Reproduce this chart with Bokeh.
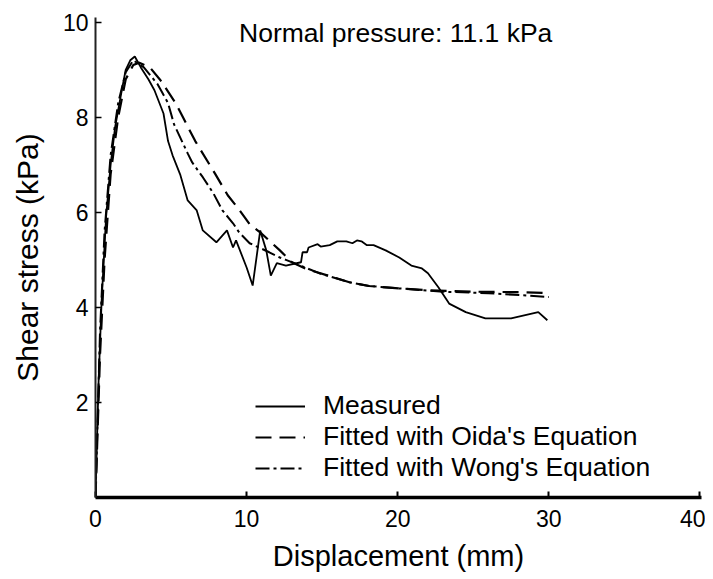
from bokeh.plotting import figure
from bokeh.models import Legend, LegendItem, Label, FixedTicker, Range1d
from bokeh.embed import file_html
from bokeh.resources import INLINE

# ---- data ----
measured_x = [0, 0.2, 0.4, 0.7, 1.0, 1.3, 1.7, 2.0, 2.3, 2.6, 3.0, 3.5, 3.9, 4.5, 4.8, 5.1,
              5.6, 6.1, 6.7, 7.1, 8.0, 8.7, 9.1, 9.3, 10.0, 10.4, 10.9, 11.3, 11.6, 12.0,
              12.6, 13.6, 13.7, 14.0, 14.1, 14.7, 14.9, 15.5, 16.0, 16.6, 17.0, 17.3, 17.6,
              17.96, 18.4, 19.2, 20.1, 20.9, 21.6, 22.0, 22.7, 23.4, 24.5, 25.8, 27.5,
              29.3, 29.9]
measured_y = [0, 2.4, 4.1, 5.9, 7.0, 7.8, 8.5, 9.0, 9.2, 9.28, 9.05, 8.8, 8.57, 8.08, 7.5, 7.2,
              6.8, 6.25, 6.04, 5.62, 5.37, 5.62, 5.26, 5.41, 4.84, 4.46, 5.62, 5.2, 4.67, 4.93,
              4.88, 4.95, 5.16, 5.16, 5.26, 5.33, 5.28, 5.31, 5.39, 5.39, 5.35, 5.41, 5.39,
              5.31, 5.31, 5.2, 5.05, 4.88, 4.82, 4.72, 4.42, 4.08, 3.9, 3.77, 3.77,
              3.9, 3.73]

oida_x = [0, 0.3, 0.6, 1.0, 1.5, 2.0, 2.5, 2.9, 3.6, 4.3, 5.3, 6.6, 7.9, 8.75, 9.4, 10.2,
          11.0, 12.2, 13.0, 14.0, 15.6, 16.8, 18.1, 20.1, 22.0, 25.0, 28.0, 30.0]
oida_y = [0, 3.0, 5.0, 6.8, 8.0, 8.8, 9.1, 9.15, 9.05, 8.78, 8.3, 7.5, 6.82, 6.36, 6.1, 5.75,
          5.55, 5.2, 4.95, 4.8, 4.65, 4.53, 4.45, 4.4, 4.36, 4.33, 4.32, 4.3]

wong_x = [0, 0.3, 0.6, 1.0, 1.5, 2.0, 2.5, 3.2, 4.1, 4.8, 5.2, 6.1, 6.4, 7.1, 7.8, 8.4, 9.1,
          9.5, 10.2, 11.5, 12.2, 12.6, 14.8, 16.8, 18.1, 20.1, 23.0, 26.0, 30.0]
wong_y = [0, 3.5, 5.6, 7.2, 8.3, 8.95, 9.2, 9.05, 8.7, 8.3, 7.85, 7.24, 7.05, 6.74, 6.4, 6.04,
          5.77, 5.58, 5.35, 5.16, 5.05, 5.0, 4.72, 4.53, 4.45, 4.4, 4.33, 4.3, 4.22]

x_ticks = [0, 10, 20, 30, 40]
y_ticks = [2, 4, 6, 8, 10]

series_labels = ["Measured", "Fitted with Oida's Equation", "Fitted with Wong's Equation"]

FONT = "Liberation Sans"

p = figure(frame_width=606, frame_height=480,
           x_range=Range1d(0, 40.1), y_range=Range1d(0, 10.1),
           output_backend="svg", toolbar_location=None,
           min_border_left=95, min_border_right=4, min_border_top=17, min_border_bottom=70)

p.outline_line_color = None
p.xgrid.grid_line_color = None
p.ygrid.grid_line_color = None
p.background_fill_color = "white"
p.border_fill_color = "white"

r1 = p.line(measured_x, measured_y, line_color="black", line_width=1.8)
r2 = p.line(oida_x, oida_y, line_color="black", line_width=2.2, line_dash="16 8")
r3 = p.line(wong_x, wong_y, line_color="black", line_width=2.0, line_dash="14 4 3 4")

# axes
xa = p.xaxis[0]
xa.ticker = FixedTicker(ticks=x_ticks)
xa.axis_line_width = 3.5
xa.axis_line_color = "black"
xa.major_tick_in = 6
xa.major_tick_out = 0
xa.major_tick_line_width = 2
xa.minor_tick_line_color = None
xa.major_label_text_font = FONT
xa.major_label_text_font_size = "23px"
xa.major_label_text_color = "black"
xa.major_label_standoff = 12
xa.axis_label = "Displacement (mm)"
xa.axis_label_text_font = FONT
xa.axis_label_text_font_size = "29px"
xa.axis_label_text_font_style = "normal"
xa.axis_label_text_color = "black"
xa.axis_label_standoff = 10

ya = p.yaxis[0]
ya.ticker = FixedTicker(ticks=y_ticks)
ya.axis_line_width = 2
ya.axis_line_color = "#222222"
ya.major_tick_in = 6
ya.major_tick_out = 0
ya.major_tick_line_width = 1.5
ya.minor_tick_line_color = None
ya.major_label_text_font = FONT
ya.major_label_text_font_size = "23px"
ya.major_label_text_color = "black"
ya.major_label_standoff = 7
ya.axis_label = "Shear stress (kPa)"
ya.axis_label_text_font = FONT
ya.axis_label_text_font_size = "30px"
ya.axis_label_text_font_style = "normal"
ya.axis_label_text_color = "black"
ya.axis_label_standoff = 16

legend = Legend(items=[LegendItem(label=series_labels[0], renderers=[r1]),
                       LegendItem(label=series_labels[1], renderers=[r2]),
                       LegendItem(label=series_labels[2], renderers=[r3])],
                location=(160, 14), orientation="vertical",
                label_text_font=FONT, label_text_font_size="26.5px",
                label_text_color="black",
                label_text_line_height=1.0,
                label_standoff=18, glyph_width=50, glyph_height=20, label_height=20,
                spacing=0, padding=0, margin=0,
                background_fill_alpha=0, border_line_color=None)
p.add_layout(legend)

p.add_layout(Label(x=9.5, y=9.78, text="Normal pressure: 11.1 kPa",
                   text_font=FONT, text_font_size="26.5px", text_color="black",
                   text_baseline="middle", text_align="left"))

open("out.html", "w").write(file_html(p, INLINE))
